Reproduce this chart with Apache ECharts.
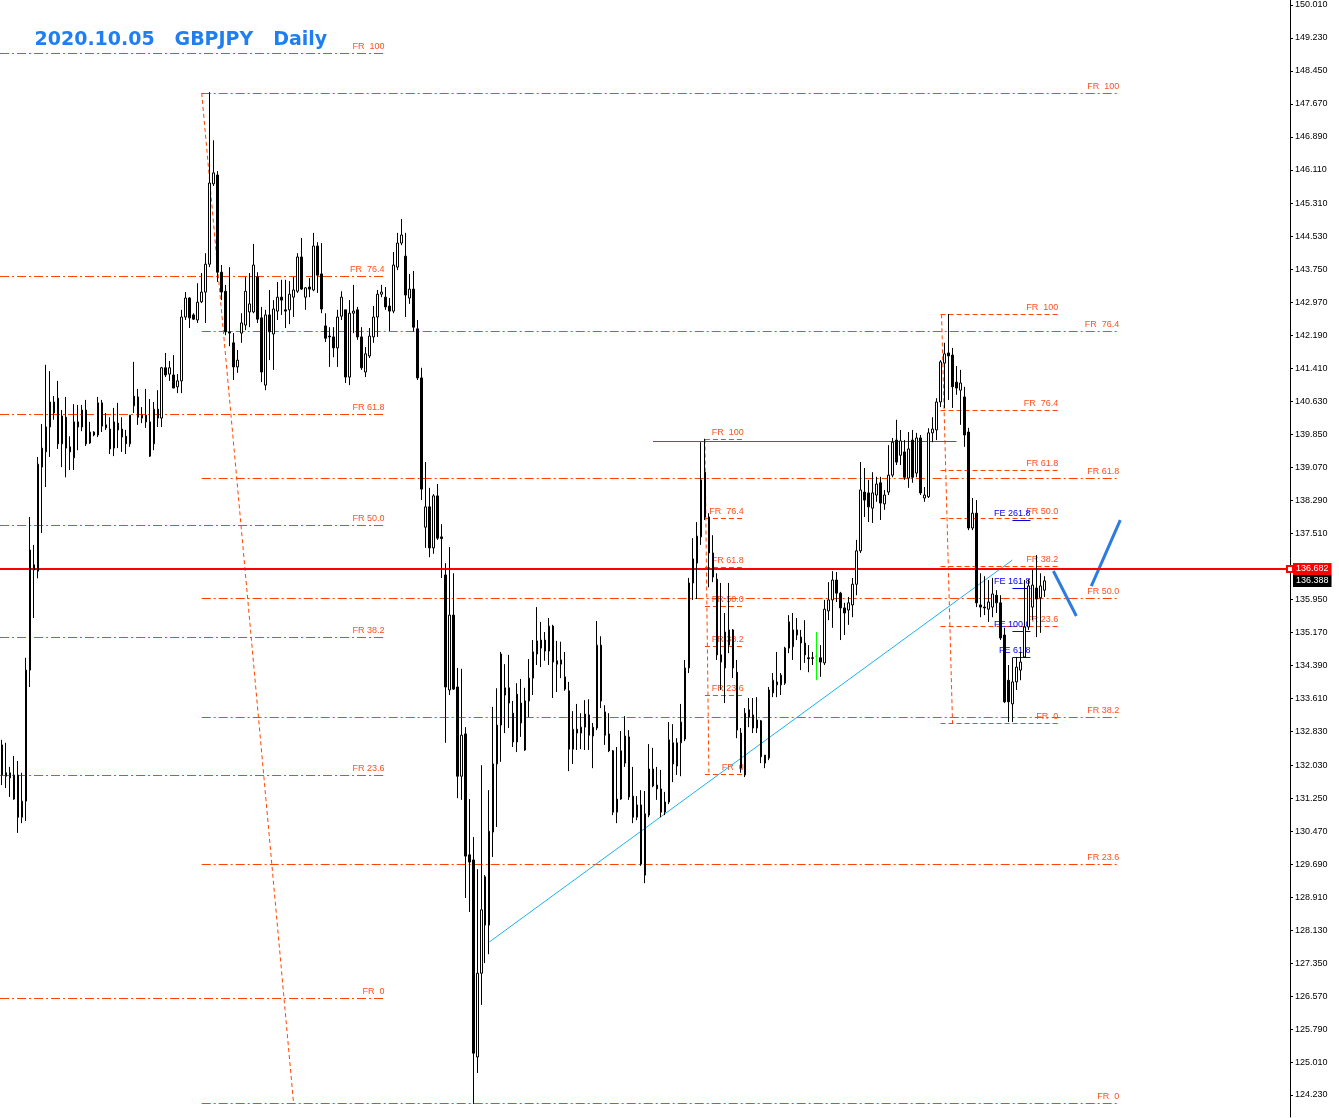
<!DOCTYPE html>
<html><head><meta charset="utf-8">
<script src="https://cdn.jsdelivr.net/npm/echarts@6/dist/echarts.min.js"></script>
<style>html,body{margin:0;padding:0;background:#fff;}#c{width:1339px;height:1118px;}</style>
</head><body><div id="c"></div>
<script>
// ---------- DATA ----------
const opens = [
132.51,131.85,131.73,131.23,131.80,130.80,131.18,134.28,136.77,136.62,
139.08,139.44,140.03,140.36,140.71,139.63,140.26,139.56,139.30,140.15,
140.03,140.43,139.65,139.91,139.84,140.60,140.08,139.98,139.53,140.12,
139.98,139.81,139.63,140.53,140.74,140.24,140.31,140.15,139.63,140.45,
140.24,141.43,141.28,141.26,140.98,141.12,142.63,143.08,142.68,142.56,
142.99,143.22,143.88,145.78,145.99,143.69,143.24,142.28,142.02,141.45,
142.25,142.44,142.75,142.75,143.58,142.61,141.02,142.68,142.23,142.77,
143.10,142.80,142.80,143.10,143.24,144.05,143.10,143.34,143.27,144.31,
143.65,142.42,142.18,142.16,141.90,142.65,142.80,141.21,142.72,142.80,
142.16,141.33,141.71,142.16,142.63,143.17,143.10,142.89,142.77,143.81,
144.38,144.07,143.08,143.29,142.35,141.19,137.66,138.14,137.17,138.40,
137.43,136.53,133.81,135.58,133.88,131.77,132.77,129.91,129.79,125.13,
127.11,129.39,128.25,130.45,132.06,132.98,133.69,133.86,133.26,132.58,
133.50,132.39,133.55,134.09,134.66,134.99,134.99,134.73,135.32,134.50,
134.42,134.12,133.79,132.41,132.88,132.79,132.93,133.22,132.72,132.91,
134.87,133.29,132.77,132.37,130.92,131.23,132.08,132.70,131.30,130.80,
131.09,129.43,130.85,131.94,131.56,131.47,130.92,131.16,132.56,132.01,
132.56,132.65,134.33,136.34,136.81,137.43,138.96,137.90,137.05,136.43,
134.64,134.33,134.87,135.23,134.23,132.79,131.80,133.17,133.22,132.91,
133.08,132.08,132.20,133.74,133.93,133.93,133.97,134.80,134.83,135.23,
135.06,134.92,134.57,134.57,134.61,134.57,134.45,135.68,135.94,136.41,
136.10,135.75,135.70,135.82,136.31,137.10,138.49,138.47,138.11,138.42,
138.71,138.21,138.49,138.89,139.72,139.36,139.44,138.82,139.72,138.94,
139.77,138.35,138.38,139.89,139.96,140.62,141.54,141.78,141.73,141.09,
140.90,140.74,139.91,137.64,137.99,135.82,135.77,135.72,135.77,136.05,
135.87,135.11,134.04,133.48,134.00,134.28,134.59,135.30,135.77,136.22,
135.99,136.17];
const closes = [
131.80,131.77,131.85,131.80,130.80,131.18,134.28,137.12,136.65,139.15,
139.53,140.03,140.62,140.62,139.63,140.29,139.53,139.44,140.15,140.03,
140.43,139.63,139.91,139.84,140.60,140.05,140.01,139.51,140.15,139.96,
139.79,139.63,140.31,140.76,140.26,140.31,140.15,139.34,140.45,140.24,
141.43,141.26,141.43,140.95,141.12,142.63,143.08,142.61,142.58,142.98,
143.22,143.88,145.80,146.04,143.69,143.22,142.28,142.25,141.45,141.61,
142.49,143.24,142.94,143.86,142.58,141.33,142.68,142.28,142.82,143.10,
143.03,142.77,143.17,143.27,144.05,143.29,143.32,143.29,144.31,143.62,
142.82,142.13,142.16,141.90,142.63,143.10,141.21,142.72,142.77,142.16,
141.43,141.76,142.18,142.63,143.17,143.22,142.87,142.77,143.86,144.38,
144.57,143.15,143.29,142.39,141.19,138.56,138.14,137.17,138.40,137.40,
137.39,133.88,135.58,133.83,131.77,132.74,129.88,129.74,125.22,127.11,
128.61,128.25,130.47,132.06,132.98,134.66,133.86,133.50,132.58,133.71,
133.03,133.55,134.09,134.71,134.97,134.80,134.73,135.32,134.47,134.42,
134.52,133.83,132.41,132.88,132.79,132.93,133.24,132.74,132.93,134.87,
133.55,132.74,132.37,130.92,131.23,132.37,132.72,131.28,130.80,131.09,
129.69,130.88,131.94,131.54,131.47,130.92,131.16,132.63,132.06,132.56,
133.05,134.33,136.34,136.91,137.45,138.78,137.90,137.05,136.48,134.64,
134.47,135.18,135.23,134.33,132.86,131.96,133.26,133.34,132.91,133.10,
132.23,132.27,133.81,134.04,134.00,134.16,134.80,135.42,135.23,135.11,
134.92,134.64,134.55,134.56,134.61,134.47,135.72,135.94,136.41,136.10,
135.75,135.63,135.87,136.31,137.10,138.54,138.30,138.14,138.47,138.68,
138.23,138.42,138.89,139.67,139.20,139.70,138.84,139.51,138.84,139.77,
138.47,138.42,139.89,139.98,140.62,141.57,141.76,141.71,140.98,140.95,
141.07,139.84,137.64,137.99,135.87,135.77,135.75,135.89,136.08,135.87,
135.04,133.53,133.53,134.00,134.35,134.47,135.30,136.27,136.29,135.96,
136.27,136.39];
const highs = [
132.63,132.56,131.99,132.25,132.13,131.85,134.57,137.90,137.24,139.32,
140.10,141.50,141.35,140.76,141.12,140.43,140.74,139.81,140.57,140.55,
140.55,140.67,140.15,139.93,140.74,140.67,140.36,140.26,140.48,140.60,
140.26,139.96,140.31,141.57,140.93,140.50,140.93,140.69,140.62,140.90,
141.45,141.78,141.59,141.73,141.28,142.80,143.22,143.10,142.72,143.43,
143.67,144.14,147.95,146.81,146.08,143.86,143.39,143.81,142.25,141.85,
142.72,143.58,143.67,144.36,143.69,142.87,142.80,143.27,143.03,143.46,
143.51,143.51,143.48,143.58,144.14,144.50,143.34,143.55,144.62,144.40,
144.38,142.72,142.39,142.39,142.80,143.24,142.80,143.03,143.39,142.87,
142.39,141.92,142.37,142.89,143.27,143.39,143.34,143.08,144.17,144.62,
144.95,144.62,143.65,143.72,142.56,141.43,139.20,138.59,138.44,138.68,
137.73,136.81,137.19,136.57,134.33,134.31,132.93,131.23,130.33,129.57,
132.03,129.43,131.44,133.41,133.85,134.71,134.42,134.64,133.55,133.97,
134.07,133.86,134.54,134.99,135.77,135.42,135.18,135.51,135.35,134.97,
134.95,134.71,134.00,133.31,133.48,133.26,133.57,133.59,133.03,135.44,
135.08,133.45,133.26,132.39,132.46,132.84,133.19,132.86,131.99,131.30,
131.44,131.42,132.53,132.44,131.99,131.92,131.40,133.05,133.00,132.67,
133.48,134.52,136.46,137.40,137.78,139.67,139.75,137.99,137.47,136.57,
136.34,135.63,136.34,135.25,134.52,132.91,133.38,133.62,133.62,133.64,
133.10,132.27,133.88,134.21,134.71,134.21,134.83,135.58,135.63,135.51,
135.23,135.46,134.87,134.71,135.18,134.87,135.94,136.36,136.62,136.60,
136.13,135.87,136.01,136.46,137.36,139.20,139.06,138.78,138.96,138.85,
138.85,138.54,139.60,139.77,140.20,139.96,139.72,139.91,139.96,139.89,
139.84,138.61,140.00,140.26,140.71,141.61,142.02,142.70,141.90,141.47,
141.38,140.98,140.01,138.35,138.30,136.57,136.50,136.41,136.46,136.17,
136.05,135.28,134.40,134.57,134.59,134.71,136.41,136.43,136.65,137.00,
136.57,136.50];
const lows = [
131.56,131.49,131.28,131.21,130.43,130.66,130.71,133.88,135.51,136.45,
137.52,138.61,139.32,140.20,139.51,139.08,138.84,139.01,139.01,139.48,
139.93,139.58,139.63,139.81,139.79,139.91,139.96,139.39,139.34,139.53,
139.44,139.39,139.56,140.36,140.08,140.12,140.01,139.32,139.48,140.03,
140.03,141.21,141.12,140.95,140.83,140.83,142.56,142.37,142.56,142.49,
142.96,142.49,143.81,145.73,143.46,143.03,142.20,141.94,141.14,141.31,
142.02,142.32,142.39,142.72,142.49,141.09,140.90,141.61,141.38,142.56,
142.68,142.37,142.46,142.63,143.20,143.27,142.80,143.10,143.24,143.20,
142.72,142.04,141.45,141.68,141.45,142.56,141.07,141.02,142.25,142.09,
141.38,141.21,141.66,142.02,142.16,143.10,142.80,142.30,142.72,143.74,
144.33,142.63,142.94,142.28,141.14,138.30,137.17,136.95,137.03,137.36,
136.46,132.56,133.69,133.81,131.25,131.21,128.89,128.56,124.02,124.75,
126.36,127.35,127.56,129.86,130.57,132.11,132.79,132.91,132.46,132.34,
132.70,132.37,133.17,133.69,134.40,134.35,134.50,134.40,133.62,133.76,
134.09,133.79,131.89,132.06,132.39,132.41,132.39,132.39,131.96,132.86,
133.38,132.51,132.34,130.85,130.66,131.21,131.99,131.21,130.66,130.73,
129.65,129.24,130.80,131.51,131.21,130.80,130.85,131.11,131.63,131.80,
131.77,132.60,134.21,135.94,135.96,137.24,137.83,136.24,136.36,134.52,
133.81,133.50,134.68,134.09,132.67,131.85,131.75,132.93,132.79,132.79,
132.08,131.96,132.15,133.64,133.64,133.69,133.93,134.68,134.52,134.99,
134.28,134.45,134.23,134.40,134.04,134.12,134.40,135.46,135.28,135.89,
134.99,135.11,135.35,135.53,136.05,137.05,137.90,137.78,137.76,138.26,
137.83,138.07,138.42,138.84,139.13,139.13,138.78,138.59,138.71,138.84,
138.42,138.26,138.35,139.67,139.72,140.50,140.48,140.67,140.48,140.79,
140.08,139.56,137.59,137.59,135.77,135.53,135.58,135.42,135.53,135.63,
134.99,133.50,133.05,133.05,133.81,134.04,134.57,135.23,135.46,135.06,
135.16,136.01];
const greenBar = 204;              // the single green doji bar
const totalSlots = 323;            // bars + empty space to the right
const yTicks = [150.010,149.230,148.450,147.670,146.890,146.110,145.310,144.530,143.750,142.970,
  142.190,141.410,140.630,139.850,139.070,138.290,137.510,135.950,135.170,134.390,133.610,
  132.830,132.030,131.250,130.470,129.690,128.910,128.130,127.350,126.570,125.790,125.010,124.230];
const yMin = 123.710, yMax = 150.128;

const fibLevels = [100, 76.4, 61.8, 50.0, 38.2, 23.6, 0];
const fibLabels = ['FR  100','FR  76.4','FR 61.8','FR 50.0','FR 38.2','FR 23.6','FR  0'];
// each retracement: high price, low price, first bar, last bar
const fib1 = [148.874, 126.523, -0.5, 95.75];
const fib2 = [147.928, 124.040, 50, 279.75];
const fib3 = [139.732, 131.822, 176, 185.75];
const fib4 = [142.694, 133.028, 235, 264.5];
// connector lines of retracements: [bar1, price1, bar2, price2]
const fibConnectors = [[50,147.928,73,124.040],[176,139.732,177,131.822],[235.25,142.694,238,133.028]];
const feLevels = [137.829, 136.221, 135.204, 134.589];
const feLabels = ['FE 261.8','FE 161.8','FE 100.0','FE 61.8'];
const feRange = [253, 257.5];
const trendLine = [[122,127.848],[253,136.883]];
const purpleLine = [163, 239, 139.697];
const redLevel = 136.682;
const bidPrice = 136.388;
const arrow1 = [[263.25,136.623],[269,135.559]];
const arrow2 = [[272.75,136.268],[280,137.829]];
const title = '2020.10.05   GBPJPY   Daily';

// ---------- BUILD ----------
const GRID_H = 1117;
// nudge a horizontal level onto a pixel centre so 1px lines stay crisp
function crisp(p, even) {
  const py = (yMax - p) / (yMax - yMin) * GRID_H;
  const s = even ? Math.round(py) : Math.floor(py) + 0.5;
  return yMax - s / GRID_H * (yMax - yMin);
}
const dates = [];
(function(){ const d = new Date(Date.UTC(2019,9,1));
  while (dates.length < totalSlots) { const w = d.getUTCDay(); if (w!==0 && w!==6) dates.push(d.toISOString().slice(0,10)); d.setUTCDate(d.getUTCDate()+1); } })();

const n = Math.min(opens.length, closes.length, highs.length, lows.length);
const candleData = [];
for (let i = 0; i < n; i++) {
  const o = opens[i], c = closes[i];
  const v = [o, c, Math.min(lows[i], o, c), Math.max(highs[i], o, c)];
  if (i === greenBar) {
    candleData.push({value: v, itemStyle: {color:'#00ff00', color0:'#00ff00', borderColor:'#00ff00', borderColor0:'#00ff00', borderColorDoji:'#00ff00'}});
  } else candleData.push(v);
}

const FONT = 'Liberation Sans';
const ORANGE = '#ff4500';
function levelLabel(text, color) {
  return {show:true, position:'insideEndTop', formatter:text, color:color, fontSize:9, fontFamily:FONT, distance:[0,2]};
}
function fibSegments(f, dash) {
  const [hi, lo, x0, x1] = f;
  return fibLevels.map((lv, k) => {
    const p = crisp(lo + (hi - lo) * lv / 100);
    return [{coord:[x0, p], lineStyle:{color:ORANGE, width:1, type:dash, opacity:1}, label:levelLabel(fibLabels[k], '#ff5020')}, {coord:[x1, p]}];
  });
}
const dashDot = [9,3,2,3];
const dashed = [5,3];
const fibData = [].concat(
  fibSegments(fib1, dashDot), fibSegments(fib2, dashDot),
  fibSegments(fib3, dashed), fibSegments(fib4, dashed),
  fibConnectors.map(c => [{coord:[c[0],c[1]], lineStyle:{color:ORANGE, width:1, type:[4,3]}}, {coord:[c[2],c[3]]}]),
  feLevels.map((p,k) => [{coord:[feRange[0],crisp(p)], lineStyle:{color:'#0000ff', width:1, type:'solid'}, label:levelLabel(feLabels[k], '#0000ff')}, {coord:[feRange[1],crisp(p)]}]),
  [[{coord:[purpleLine[0],crisp(purpleLine[2])], lineStyle:{color:'#b0288a', width:1, type:'solid'}}, {coord:[purpleLine[1],crisp(purpleLine[2])]}]]
);

const chart = echarts.init(document.getElementById('c'), null, {renderer:'canvas'});
chart.setOption({
  animation:false,
  backgroundColor:'#ffffff',
  grid:{left:-2, top:0, width:1292, height:GRID_H, containLabel:false},
  xAxis:[
    {type:'category', data:dates, show:false, boundaryGap:true},
    {type:'value', min:-0.5, max:totalSlots-0.5, show:false}
  ],
  yAxis:[{
    type:'value', position:'right', min:yMin, max:yMax, scale:true,
    axisLine:{show:true, onZero:false, lineStyle:{color:'#000', width:1}},
    axisTick:{show:true, length:3, customValues:yTicks, lineStyle:{color:'#000'}},
    axisLabel:{show:true, customValues:yTicks, margin:5, color:'#000', fontSize:9, fontFamily:FONT, formatter:v=>Number(v).toFixed(3)},
    splitLine:{show:false}
  }],
  graphic:[{type:'text', left:34, top:30, z:100, style:{text:title, font:'bold 19px "DejaVu Sans"', fill:'#1f7ff2', stroke:'rgba(255,255,255,0.9)', lineWidth:1, shadowColor:'rgba(0,0,0,0.35)', shadowBlur:2, shadowOffsetX:2, shadowOffsetY:2}}],
  series:[
    {type:'line', xAxisIndex:1, yAxisIndex:0, data:[], silent:true, clip:false, z:1,
     markLine:{silent:true, symbol:['none','none'], z:1, animation:false, label:{show:false}, data:fibData}},
    {type:'line', xAxisIndex:1, yAxisIndex:0, data:trendLine, silent:true, showSymbol:false, symbol:'none', z:1,
     lineStyle:{color:'#1cb2f0', width:1}},
    {type:'line', xAxisIndex:1, yAxisIndex:0, data:arrow1, silent:true, showSymbol:false, symbol:'none', z:1,
     lineStyle:{color:'#2c7be2', width:3}},
    {type:'line', xAxisIndex:1, yAxisIndex:0, data:arrow2, silent:true, showSymbol:false, symbol:'none', z:1,
     lineStyle:{color:'#2c7be2', width:3}},
    {type:'line', xAxisIndex:1, yAxisIndex:0, data:[], silent:true, clip:false, z:1,
     markLine:{silent:true, z:2, animation:false, symbol:['none','emptyRect'], symbolSize:6,
       data:[
         [{coord:[-0.5, crisp(redLevel, true)], lineStyle:{color:'#ff0000', width:2, type:'solid'},
           label:{show:true, position:'end', distance:3, formatter:redLevel.toFixed(3), color:'#fff', backgroundColor:'#ff0000', padding:[1,3,1,3], fontSize:9, fontFamily:FONT, lineHeight:10}},
          {coord:[totalSlots-0.5, crisp(redLevel, true)]}],
         [{coord:[-0.5, bidPrice], symbol:'none', lineStyle:{color:'rgba(0,0,0,0)', width:0},
           label:{show:true, position:'end', distance:3, formatter:bidPrice.toFixed(3), color:'#fff', backgroundColor:'#000', padding:[1,3,1,3], fontSize:9, fontFamily:FONT, lineHeight:10}},
          {coord:[totalSlots-0.5, bidPrice], symbol:'none'}]
       ]}},
    {type:'candlestick', xAxisIndex:0, yAxisIndex:0, data:candleData, barWidth:2, z:5,
     itemStyle:{color:'#ffffff', color0:'#000000', borderColor:'#000000', borderColor0:'#000000', borderColorDoji:'#000000', borderWidth:1}}
  ]
});
</script></body></html>
